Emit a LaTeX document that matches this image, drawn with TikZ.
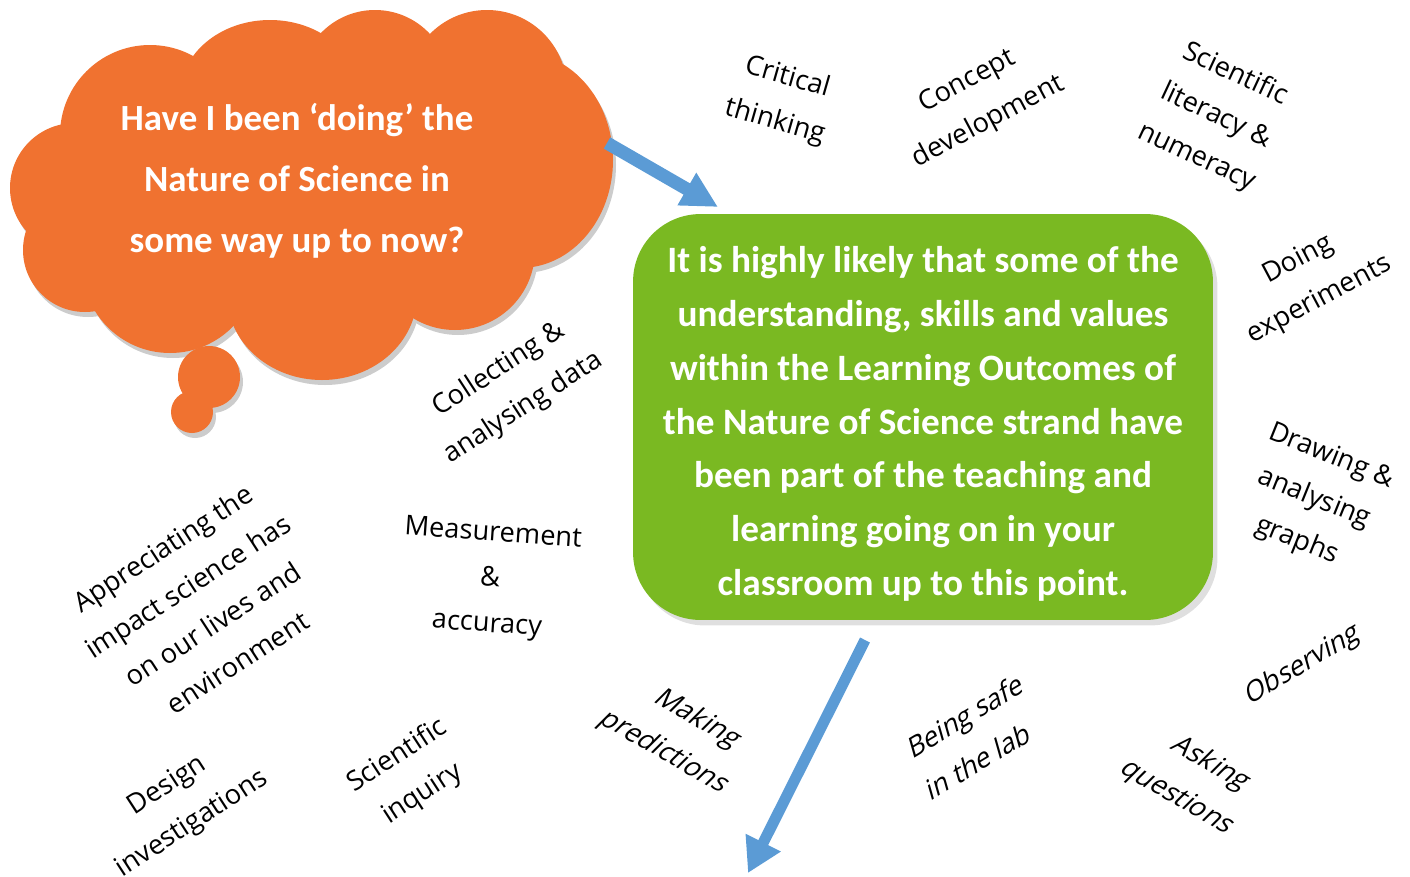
\documentclass[tikz,border=0pt]{standalone}
\usepackage{fontspec}
\setmainfont{Open Sans}
\newfontfamily\calibri{Carlito}
\usetikzlibrary{arrows.meta,shadows}

\definecolor{cloudorange}{RGB}{240,114,48}
\definecolor{boxgreen}{RGB}{122,185,34}
\definecolor{arrowblue}{RGB}{91,155,213}

% bumps of the thought cloud: x/y/x radius/y radius
\newcommand\cloudbumps{75/188/65/65, 150/135/90/90, 270/95/90/75, 375/85/75/75,
  487/90/80/80, 520/160/93/108, 455/250/80/80, 322/295/95/85, 170/265/88/88,
  85/250/62/62, 320/190/150/150, 209/377/31/31, 192/412/21/21}

\begin{document}
\begin{tikzpicture}[x=0.02cm, y=-0.02cm,
    lbl/.style={align=center, inner sep=0pt, font=\fontsize{15.5}{25.9}\selectfont},
    slanted/.style={lbl, xslant=0.27},
    greenbox/.style={rounded corners=1.35cm, fill=boxgreen,
      minimum width=11.6cm, minimum height=8.12cm,
      drop shadow={shadow xshift=0.09cm, shadow yshift=-0.11cm, opacity=0.25}},
    boxtext/.style={text=white, align=center,
      font=\calibri\bfseries\fontsize{21.2}{30.6}\selectfont},
    bluearrow/.style={draw=arrowblue, line width=#1}]
	\useasboundingbox (0,0) rectangle (1410,876);

	% cloud
	\foreach \cx/\cy/\rx/\ry in \cloudbumps
		\fill[black!20] (\cx+3,\cy+5) ellipse [x radius=\rx, y radius=\ry];
	\foreach \cx/\cy/\rx/\ry in \cloudbumps
		\fill[cloudorange] (\cx,\cy) ellipse [x radius=\rx, y radius=\ry];
	\node[align=center, text=white, font=\calibri\bfseries\fontsize{21}{34.6}\selectfont]
		(question) at (297,181) {Have I been ‘doing’ the\\Nature of Science in\\some way up to now?};

	\node[greenbox] (box) at (923,417) {};
	\node[boxtext] (outcome) at (923,424) {It is highly likely that some of the\\
		understanding, skills and values\\within the Learning Outcomes of\\
		the Nature of Science strand have\\been part of the teaching and\\
		learning going on in your\\classroom up to this point.};

	\coordinate (cloudedge) at (607,143);
	\coordinate (boxin) at (718,207);
	\coordinate (boxout) at (865,640);
	\coordinate (down) at (748,873);
	\draw[bluearrow=0.26cm, -{Triangle[length=0.72cm, width=0.7cm]}] (cloudedge) -- (boxin);
	\draw[bluearrow=0.22cm, -{Triangle[length=0.68cm, width=0.74cm]}] (boxout) -- (down);

	% skills round the box
	\node[lbl, rotate=-16] (critical) at (781,100) {Critical\\thinking};
	\node[lbl, rotate=28] (concept) at (978,102) {Concept\\development};
	\node[lbl, rotate=-25] (literacy) at (1216,116) {Scientific\\literacy \&\\numeracy};
	\node[lbl, rotate=28] (experiments) at (1309,280) {Doing\\experiments};
	\node[lbl, rotate=-22] (graphs) at (1314,499) {Drawing \&\\analysing\\graphs};
	\node[rotate=31, slanted] (observing) at (1303,665) {Observing};
	\node[rotate=-30, slanted] (asking) at (1194,781) {Asking\\questions};
	\node[rotate=31, slanted] (safe) at (972,738) {Being safe\\in the lab};
	\node[rotate=-30, slanted] (predictions) at (681,736) {Making\\predictions};
	\node[lbl, rotate=-4] (measurement) at (490,580) {Measurement\\\&\\accuracy};
	\node[lbl, rotate=33] (data) at (511,389) {Collecting \&\\analysing data};
	\node[lbl, rotate=33] (impact) at (200,605) {Appreciating the\\impact science has\\on our lives and\\environment};
	\node[lbl, rotate=33] (design) at (180,805) {Design\\investigations};
	\node[lbl, rotate=33] (inquiry) at (410,775) {Scientific\\inquiry};
\end{tikzpicture}
\end{document}
